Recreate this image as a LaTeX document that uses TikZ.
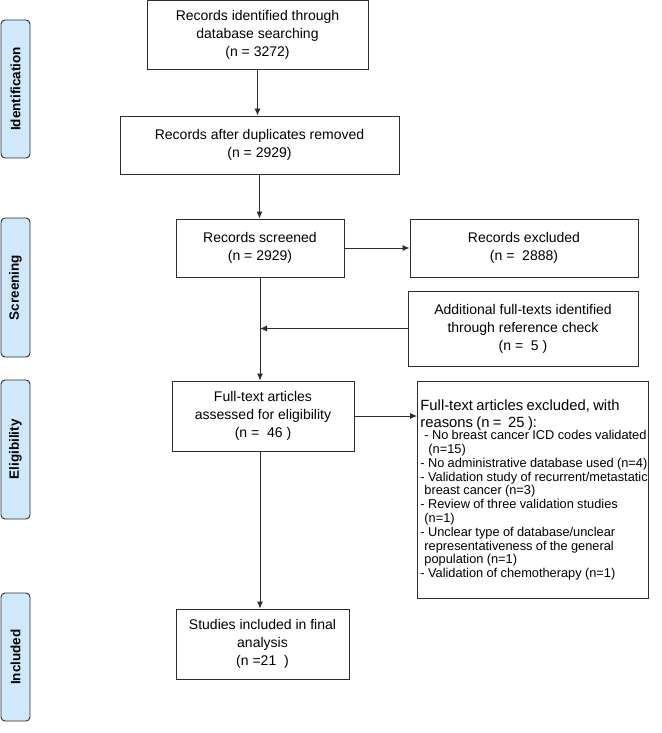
\documentclass[tikz,border=0pt]{standalone}
\usepackage{fontspec}
\setmainfont{Liberation Sans}
\usepackage{tikz}
\usetikzlibrary{calc, arrows.meta}
\tikzset{>={Latex[length=7pt,width=6pt]}}
\definecolor{phasefill}{RGB}{207,232,252}
\definecolor{boxline}{RGB}{45,45,45}
\tikzstyle{box} = [draw=boxline, line width=0.9, fill=white, align=center, inner sep=2pt, font=\fontsize{14}{18}\selectfont]
\tikzstyle{phasebox} = [draw=boxline, line width=0.9, fill=phasefill, rounded corners=4, rotate=90, minimum height=29, inner sep=0pt, font=\fontsize{13.5}{16}\selectfont\bfseries]
\tikzstyle{flow} = [->, line width=0.9, boxline]
\newcommand{\phaselabel}[4]{
\node[phasebox, minimum width=#3] (#1) at (#2) {#4};
}

\begin{document}
\begin{tikzpicture}[x=1pt, y=-1pt]
		\useasboundingbox (0,0) rectangle (661,733);
		
		% Phases
		\phaselabel{ident}{15.5,89}{138}{Identification}
		\phaselabel{screen}{15.5,287.5}{139}{Screening}
		\phaselabel{elig}{15.5,449.5}{139}{Eligibility}
		\phaselabel{incl}{15.5,657}{128}{Included}
		
		% Boxes
		\node[box, minimum width=221, minimum height=69] (found) at (257.5,35) {Records identified through\\ database searching\\ (n = 3272)};
		\node[box, minimum width=279, minimum height=58] (dupl) at (259.5,145) {Records after duplicates removed\\ (n = 2929)};
		\node[box, minimum width=168, minimum height=58] (screened) at (260,248) {Records screened\\ (n = 2929)};
		\node[box, minimum width=228, minimum height=58] (excluded) at (524,248) {Records excluded\\ (n = ~2888)};
		\node[box, minimum width=230, minimum height=75] (added) at (523,328.5) {Additional full-texts identified\\ through reference check\\ (n = ~5 )};
		\node[box, minimum width=182, minimum height=70] (fulltext) at (263,416) {Full-text articles\\ assessed for eligibility\\ (n = ~46 )};
		\node[box, minimum width=173, minimum height=70] (included) at (262.5,644) {Studies included in final\\ analysis\\ (n =21~~)};
		
		% Reasons
		\node[draw=boxline, line width=0.9, fill=white, anchor=north west, minimum width=231, minimum height=217, text width=225pt, inner xsep=3pt, inner ysep=0pt, align=left] (reasons) at (417,381) {%
			{\fontsize{14.8}{17.3}\selectfont Full-text articles excluded, with\\ reasons (n = ~25 ):\par}\vspace{-1.5pt}
			{\fontsize{12.8}{13.8}\selectfont
			\mbox{\hspace{4pt}- No breast cancer ICD codes validated}\\
			\mbox{\hspace{8pt}(n=15)}\\
			\mbox{- No administrative database used (n=4)}\\
			\mbox{- Validation study of recurrent/metastatic}\\
			\mbox{\hspace{4pt}breast cancer (n=3)}\\
			\mbox{- Review of three validation studies}\\
			\mbox{\hspace{4pt}(n=1)}\\
			\mbox{- Unclear type of database/unclear}\\
			\mbox{\hspace{4pt}representativeness of the general}\\
			\mbox{\hspace{4pt}population (n=1)}\\
			\mbox{- Validation of chemotherapy (n=1)}\par}};
		
		% Arrows
		\draw[flow] (found.south) -- (found.south |- dupl.north);
		\draw[flow] (dupl.south) -- (dupl.south |- screened.north);
		\draw[flow] (screened.east) -- (screened.east -| excluded.west);
		\draw[flow] (added.west) -- (screened.south |- added.west);
		\draw[flow] (screened.south) -- (screened.south |- fulltext.north);
		\draw[flow] (fulltext.east) -- (fulltext.east -| reasons.west);
		\draw[flow] (screened.south |- fulltext.south) -- (screened.south |- included.north);
	\end{tikzpicture}
\end{document}
